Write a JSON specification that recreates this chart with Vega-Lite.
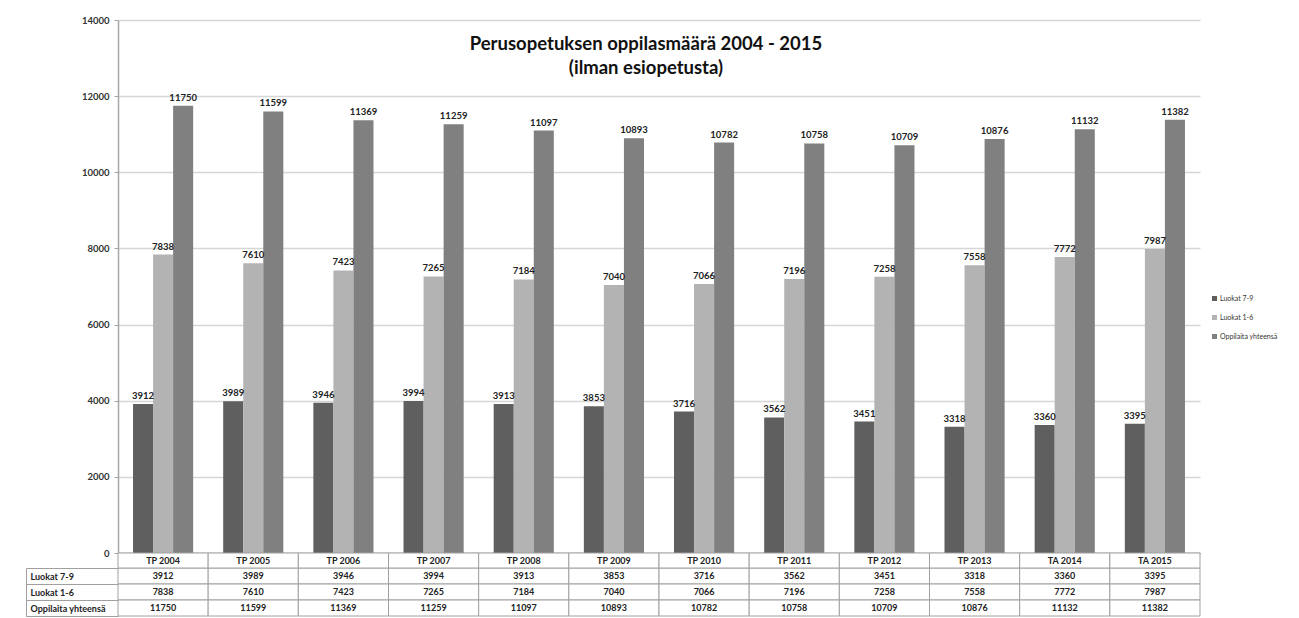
{
  "$schema": "https://vega.github.io/schema/vega-lite/v6.json",
  "padding": {"left": 25, "top": 15, "right": 5, "bottom": 0},
  "background": "white",
  "config": {"font": "Lato", "view": {"stroke": null}},
  "datasets": {
    "d": [
      {"cat": "TP 2004", "series": "Luokat 7-9", "value": 3912},
      {"cat": "TP 2005", "series": "Luokat 7-9", "value": 3989},
      {"cat": "TP 2006", "series": "Luokat 7-9", "value": 3946},
      {"cat": "TP 2007", "series": "Luokat 7-9", "value": 3994},
      {"cat": "TP 2008", "series": "Luokat 7-9", "value": 3913},
      {"cat": "TP 2009", "series": "Luokat 7-9", "value": 3853},
      {"cat": "TP 2010", "series": "Luokat 7-9", "value": 3716},
      {"cat": "TP 2011", "series": "Luokat 7-9", "value": 3562},
      {"cat": "TP 2012", "series": "Luokat 7-9", "value": 3451},
      {"cat": "TP 2013", "series": "Luokat 7-9", "value": 3318},
      {"cat": "TA 2014", "series": "Luokat 7-9", "value": 3360},
      {"cat": "TA 2015", "series": "Luokat 7-9", "value": 3395},
      {"cat": "TP 2004", "series": "Luokat 1-6", "value": 7838},
      {"cat": "TP 2005", "series": "Luokat 1-6", "value": 7610},
      {"cat": "TP 2006", "series": "Luokat 1-6", "value": 7423},
      {"cat": "TP 2007", "series": "Luokat 1-6", "value": 7265},
      {"cat": "TP 2008", "series": "Luokat 1-6", "value": 7184},
      {"cat": "TP 2009", "series": "Luokat 1-6", "value": 7040},
      {"cat": "TP 2010", "series": "Luokat 1-6", "value": 7066},
      {"cat": "TP 2011", "series": "Luokat 1-6", "value": 7196},
      {"cat": "TP 2012", "series": "Luokat 1-6", "value": 7258},
      {"cat": "TP 2013", "series": "Luokat 1-6", "value": 7558},
      {"cat": "TA 2014", "series": "Luokat 1-6", "value": 7772},
      {"cat": "TA 2015", "series": "Luokat 1-6", "value": 7987},
      {"cat": "TP 2004", "series": "Oppilaita yhteensä", "value": 11750},
      {"cat": "TP 2005", "series": "Oppilaita yhteensä", "value": 11599},
      {"cat": "TP 2006", "series": "Oppilaita yhteensä", "value": 11369},
      {"cat": "TP 2007", "series": "Oppilaita yhteensä", "value": 11259},
      {"cat": "TP 2008", "series": "Oppilaita yhteensä", "value": 11097},
      {"cat": "TP 2009", "series": "Oppilaita yhteensä", "value": 10893},
      {"cat": "TP 2010", "series": "Oppilaita yhteensä", "value": 10782},
      {"cat": "TP 2011", "series": "Oppilaita yhteensä", "value": 10758},
      {"cat": "TP 2012", "series": "Oppilaita yhteensä", "value": 10709},
      {"cat": "TP 2013", "series": "Oppilaita yhteensä", "value": 10876},
      {"cat": "TA 2014", "series": "Oppilaita yhteensä", "value": 11132},
      {"cat": "TA 2015", "series": "Oppilaita yhteensä", "value": 11382}
    ],
    "cats": [
      {"cat": "TP 2004"}, {"cat": "TP 2005"}, {"cat": "TP 2006"}, {"cat": "TP 2007"},
      {"cat": "TP 2008"}, {"cat": "TP 2009"}, {"cat": "TP 2010"}, {"cat": "TP 2011"},
      {"cat": "TP 2012"}, {"cat": "TP 2013"}, {"cat": "TA 2014"}, {"cat": "TA 2015"}
    ]
  },
  "bounds": "flush",
  "spacing": 0,
  "vconcat": [
    {
      "width": 1082,
      "height": 533,
      "data": {"name": "d"},
      "title": {
        "text": ["Perusopetuksen oppilasmäärä 2004 - 2015", "(ilman esiopetusta)"],
        "font": "Lato",
        "fontSize": 18.5,
        "fontWeight": "bold",
        "lineHeight": 24,
        "baseline": "alphabetic",
        "offset": -77,
        "anchor": "middle",
        "dx": -13,
        "color": "#111111"
      },
      "layer": [
        {
          "mark": {"type": "bar"},
          "encoding": {
            "x": {
              "field": "cat", "type": "nominal",
              "scale": {"domain": ["TP 2004","TP 2005","TP 2006","TP 2007","TP 2008","TP 2009","TP 2010","TP 2011","TP 2012","TP 2013","TA 2014","TA 2015"], "paddingInner": 0.333, "paddingOuter": 0.1667},
              "axis": {"labels": false, "ticks": false, "title": null, "domainColor": "#a6a6a6", "domainWidth": 1.5}
            },
            "xOffset": {
              "field": "series", "type": "nominal",
              "scale": {"domain": ["Luokat 7-9", "Luokat 1-6", "Oppilaita yhteensä"], "paddingInner": 0, "paddingOuter": 0}
            },
            "y": {
              "field": "value", "type": "quantitative",
              "scale": {"domain": [0, 14000]},
              "axis": {
                "values": [0, 2000, 4000, 6000, 8000, 10000, 12000, 14000],
                "format": "d",
                "title": null,
                "labelFont": "Lato",
                "labelFontSize": 9.5,
                "labelFontWeight": "bold",
                "labelColor": "#333333",
                "labelPadding": 5,
                "tickSize": 4,
                "tickColor": "#a6a6a6",
                "domainColor": "#a6a6a6",
                "domainWidth": 1.5,
                "gridColor": "#d6d6d6",
                "gridWidth": 1.3
              }
            },
            "color": {
              "field": "series", "type": "nominal",
              "scale": {"domain": ["Luokat 7-9", "Luokat 1-6", "Oppilaita yhteensä"], "range": ["#5f5f5f", "#b3b3b3", "#808080"]},
              "legend": {
                "title": null,
                "orient": "none",
                "legendX": 1093,
                "legendY": 275,
                "symbolType": "square",
                "symbolSize": 25,
                "symbolStrokeWidth": 0,
                "labelFont": "Lato",
                "labelFontSize": 7,
                "labelColor": "#333333",
                "labelOffset": 2,
                "rowPadding": 11
              }
            }
          }
        },
        {
          "mark": {"type": "text", "baseline": "alphabetic", "dy": -5, "font": "Lato", "fontSize": 9.5, "fontWeight": "bold", "color": "#222222"},
          "encoding": {
            "x": {"field": "cat", "type": "nominal"},
            "xOffset": {"field": "series", "type": "nominal"},
            "y": {"field": "value", "type": "quantitative"},
            "text": {"field": "value", "type": "quantitative", "format": "d"}
          }
        }
      ]
    },
    {
      "width": 1082,
      "height": 63,
      "resolve": {"axis": {"y": "independent"}, "scale": {"y": "independent"}},
      "layer": [
        {
          "data": {"name": "d"},
          "mark": {"type": "rect", "fill": "white", "stroke": "#a0a0a0", "strokeWidth": 1},
          "encoding": {
            "x": {
              "field": "cat", "type": "nominal",
              "scale": {"domain": ["TP 2004","TP 2005","TP 2006","TP 2007","TP 2008","TP 2009","TP 2010","TP 2011","TP 2012","TP 2013","TA 2014","TA 2015"], "paddingInner": 0, "paddingOuter": 0},
              "axis": null
            },
            "y": {
              "field": "series", "type": "nominal",
              "scale": {"domain": ["Luokat 7-9", "Luokat 1-6", "Oppilaita yhteensä"], "range": [15, 63], "paddingInner": 0, "paddingOuter": 0},
              "axis": {
                "orient": "left",
                "title": null,
                "domain": false,
                "labelAlign": "left",
                "labelPadding": -4,
                "labelFont": "Lato",
                "labelFontSize": 9,
                "labelFontWeight": "bold",
                "labelColor": "#222222",
                "tickSize": 92,
                "tickBand": "extent",
                "tickColor": "#a0a0a0"
              }
            }
          }
        },
        {
          "data": {"name": "d"},
          "mark": {"type": "text", "font": "Lato", "fontSize": 9, "fontWeight": "bold", "color": "#222222"},
          "encoding": {
            "x": {"field": "cat", "type": "nominal"},
            "y": {
              "field": "series", "type": "nominal",
              "scale": {"domain": ["Luokat 7-9", "Luokat 1-6", "Oppilaita yhteensä"], "range": [15, 63], "paddingInner": 0, "paddingOuter": 0},
              "axis": {"orient": "left", "offset": 92, "domain": true, "domainColor": "#a0a0a0", "labels": false, "ticks": false, "grid": false, "title": null}
            },
            "text": {"field": "value", "type": "quantitative", "format": "d"}
          }
        },
        {
          "data": {"name": "cats"},
          "mark": {"type": "rect", "fill": "white", "stroke": "#a0a0a0", "strokeWidth": 1},
          "encoding": {
            "x": {"field": "cat", "type": "nominal"},
            "y": {"datum": "header", "type": "nominal", "scale": {"domain": ["header"], "range": [0, 15], "paddingInner": 0, "paddingOuter": 0}, "axis": null}
          }
        },
        {
          "data": {"name": "cats"},
          "mark": {"type": "text", "font": "Lato", "fontSize": 9, "fontWeight": "bold", "color": "#222222"},
          "encoding": {
            "x": {"field": "cat", "type": "nominal"},
            "y": {"datum": "header", "type": "nominal", "scale": {"domain": ["header"], "range": [0, 15], "paddingInner": 0, "paddingOuter": 0}, "axis": null},
            "text": {"field": "cat", "type": "nominal"}
          }
        }
      ]
    }
  ]
}
